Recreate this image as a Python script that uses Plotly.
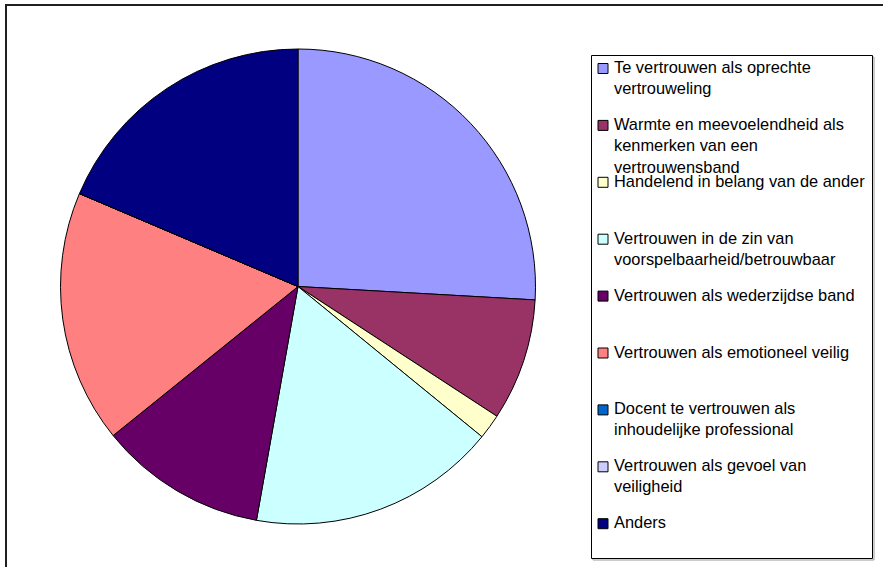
import plotly.graph_objects as go

# ── Data ─────────────────────────────────────────────────────────────
labels = [
    "Te vertrouwen als oprechte<br>vertrouweling",
    "Warmte en meevoelendheid als<br>kenmerken van een<br>vertrouwensband",
    "Handelend in belang van de ander",
    "Vertrouwen in de zin van<br>voorspelbaarheid/betrouwbaar",
    "Vertrouwen als wederzijdse band",
    "Vertrouwen als emotioneel veilig",
    "Docent te vertrouwen als<br>inhoudelijke professional",
    "Vertrouwen als gevoel van<br>veiligheid",
    "Anders",
]
shares = [25.9, 8.3, 1.7, 16.9, 11.4, 17.2, 0, 0, 18.6]
colors = [
    "#9999FF", "#993366", "#FFFFCC", "#CCFFFF", "#660066",
    "#FF8080", "#0066CC", "#CCCCFF", "#000080",
]

W, H = 883, 567


def px(x):
    return x / W


def py(y):
    return 1 - y / H


# pie centre / radius in pixels
cx, cy, r = 298, 286.5, 237.5

fig = go.Figure(go.Pie(
    labels=labels,
    values=shares,
    sort=False,
    direction="clockwise",
    rotation=0,
    textinfo="none",
    hoverinfo="label+percent",
    marker=dict(colors=colors, line=dict(color="#000000", width=1)),
    domain=dict(x=[px(cx - r), px(cx + r)], y=[py(cy + r), py(cy - r)]),
    showlegend=False,
))

# ── Custom legend (Excel style: evenly spaced slots) ─────────────────
shapes = [
    # outer chart border
    dict(type="rect", xref="paper", yref="paper",
         x0=px(6), x1=px(W + 20), y0=py(H + 20), y1=py(5),
         line=dict(color="#202020", width=2)),
    # legend shadow + box
    dict(type="rect", xref="paper", yref="paper",
         x0=px(593), x1=px(874), y0=py(560), y1=py(57),
         line=dict(color="#9a9a9a", width=1)),
    dict(type="rect", xref="paper", yref="paper",
         x0=px(591.5), x1=px(872.5), y0=py(558.5), y1=py(55.5),
         fillcolor="white", line=dict(color="#000000", width=1)),
]
annotations = []
slot = 56.9
for i, (lab, col) in enumerate(zip(labels, colors)):
    yc = 67.5 + slot * i
    shapes.append(dict(
        type="rect", xref="paper", yref="paper",
        x0=px(598), x1=px(608), y0=py(yc + 6), y1=py(yc - 4),
        fillcolor=col, line=dict(color="#000000", width=1),
    ))
    annotations.append(dict(
        xref="paper", yref="paper", x=px(612), y=py(yc - 11.5),
        xanchor="left", yanchor="top", align="left",
        text=lab, showarrow=False,
        font=dict(family="Liberation Sans, Arial", size=16.4, color="#000000"),
    ))

fig.update_layout(
    width=W, height=H,
    margin=dict(l=0, r=0, t=0, b=0),
    paper_bgcolor="white",
    plot_bgcolor="white",
    shapes=shapes,
    annotations=annotations,
)

# drop the default body margin so the figure sits at the window origin
fig.write_html(
    "out.html",
    config={"displayModeBar": False},
    post_script="document.body.style.margin='0';document.body.style.overflow='hidden';",
)
